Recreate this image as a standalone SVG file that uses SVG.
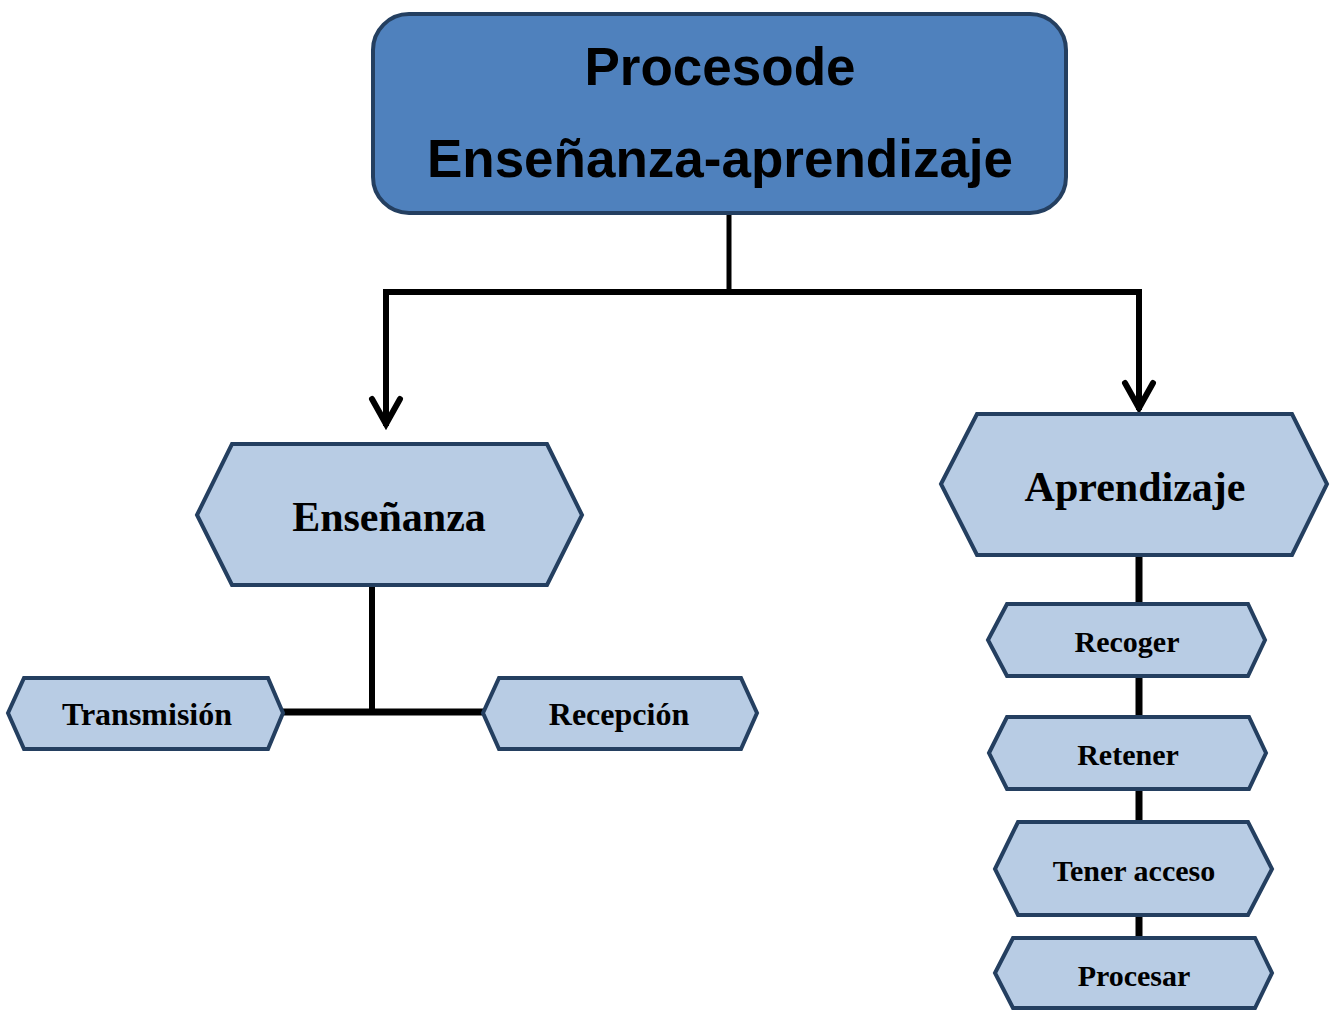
<svg xmlns="http://www.w3.org/2000/svg" width="1330" height="1011" viewBox="0 0 1330 1011">
<defs>
<style>
.hex{fill:#b8cce4;stroke:#243f60;stroke-width:4;stroke-linejoin:miter}
.top{fill:#4f81bd;stroke:#243f60;stroke-width:4}
.t1{font-family:"Liberation Sans",Arial,sans-serif;font-weight:bold;font-size:53px;fill:#000;text-anchor:middle}
.big{font-family:"Liberation Serif","Times New Roman",serif;font-weight:bold;font-size:42px;fill:#000;text-anchor:middle}
.sm{font-family:"Liberation Serif","Times New Roman",serif;font-weight:bold;font-size:30px;fill:#000;text-anchor:middle}
.lg{font-size:32px}
.con{fill:none;stroke:#000;stroke-width:6}
.arr{fill:none;stroke:#000;stroke-width:6;stroke-linecap:round;stroke-linejoin:miter}
</style>
</defs>
<rect width="1330" height="1011" fill="#fff"/>
<g id="connectors">
<line class="con" x1="729" y1="213" x2="729" y2="293" style="stroke-width:5"/>
<polyline class="con" points="386,426 386,292 1139,292 1139,410"/>
<polyline class="arr" points="372,399 386,424 400,399"/>
<polyline class="arr" points="1125,383 1139,408 1153,383"/>
<line class="con" x1="372" y1="584" x2="372" y2="712"/>
<line class="con" x1="283" y1="712" x2="485" y2="712" style="stroke-width:7"/>
<line class="con" x1="1139" y1="555" x2="1139" y2="940" style="stroke-width:7"/>
</g>
<g id="root">
<rect class="top" x="373" y="14" width="693" height="199" rx="36" ry="36"/>
<text class="t1" x="720" y="85">Procesode</text>
<text class="t1" x="720" y="177">Enseñanza-aprendizaje</text>
</g>
<g id="ensenanza">
<polygon class="hex" points="197,515 232,444 547,444 582,515 547,585 232,585"/>
<text class="big" x="389" y="531">Enseñanza</text>
</g>
<g id="aprendizaje">
<polygon class="hex" points="941,484 977,414 1292,414 1327,484 1292,555 977,555"/>
<text class="big" x="1135" y="501">Aprendizaje</text>
</g>
<g id="transmision">
<polygon class="hex" points="8,713 24,678 268,678 283,713 268,749 24,749"/>
<text class="sm lg" x="147" y="725">Transmisión</text>
</g>
<g id="recepcion">
<polygon class="hex" points="483,713 499,678 741,678 757,713 741,749 499,749"/>
<text class="sm lg" x="619" y="725">Recepción</text>
</g>
<g id="recoger">
<polygon class="hex" points="988,640 1007,604 1248,604 1265,640 1248,676 1007,676"/>
<text class="sm" x="1127" y="652">Recoger</text>
</g>
<g id="retener">
<polygon class="hex" points="989,753 1007,717 1249,717 1266,753 1249,789 1007,789"/>
<text class="sm" x="1128" y="765">Retener</text>
</g>
<g id="tener-acceso">
<polygon class="hex" points="995,869 1018,822 1248,822 1272,869 1248,915 1018,915"/>
<text class="sm" x="1134" y="881">Tener acceso</text>
</g>
<g id="procesar">
<polygon class="hex" points="995,973 1013,938 1255,938 1272,973 1255,1008 1013,1008"/>
<text class="sm" x="1134" y="986">Procesar</text>
</g>
</svg>
